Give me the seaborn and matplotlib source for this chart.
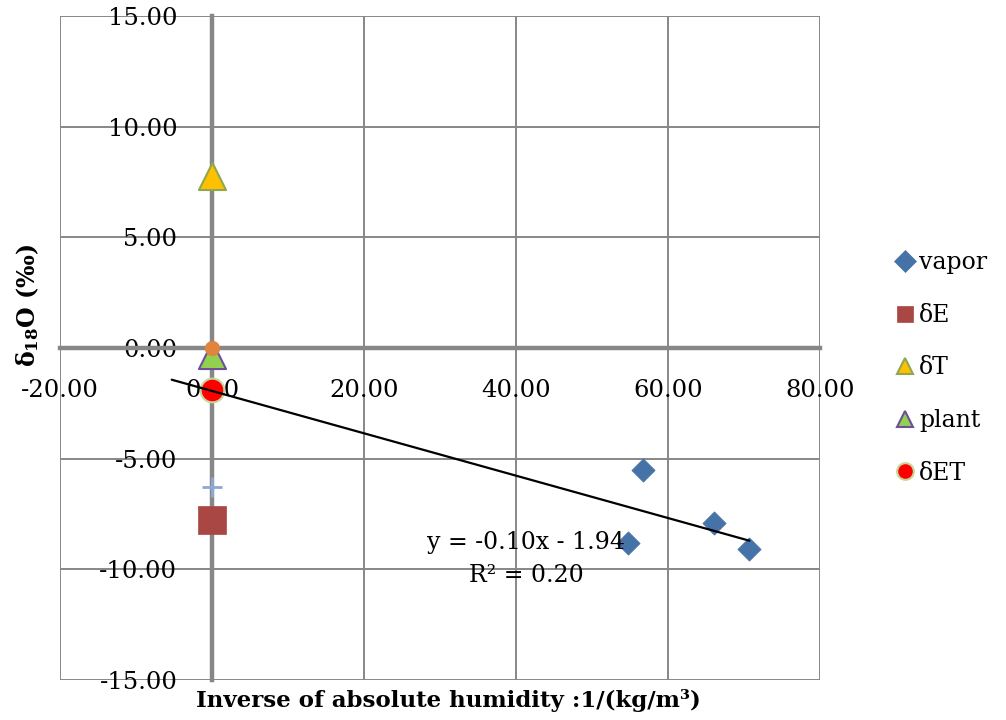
import matplotlib
matplotlib.use("Agg")
import matplotlib.pyplot as plt
from matplotlib.lines import Line2D
import seaborn as sns
import pandas as pd
import numpy as np

# ---- data ----
vapor_x = [54.7, 56.7, 66.0, 70.7]
vapor_y = [-8.81, -5.51, -7.91, -9.08]
dE_x = [0.0]
dE_y = [-7.77]
dT_x = [0.0]
dT_y = [7.77]
plant_x = [0.0]
plant_y = [-0.30]
dET_x = [0.0]
dET_y = [-1.90]
extra_orange_x = [0.0]
extra_orange_y = [0.0]
extra_plus_x = [0.0]
extra_plus_y = [-6.30]
trend_slope = -0.0957
trend_intercept = -1.94
trend_xrange = [-5.3, 70.7]
x_ticks = [-20, 0, 20, 40, 60, 80]
y_ticks = [-15, -10, -5, 0, 5, 10, 15]
legend_labels = ["vapor", "δE", "δT", "plant", "δET"]

sns.set_style("white")
plt.rcParams['font.family'] = ['DejaVu Serif']
plt.rcParams['mathtext.fontset'] = 'dejavuserif'
plt.rcParams['text.color'] = 'black'
plt.rcParams['xtick.labelcolor'] = 'black'
plt.rcParams['ytick.labelcolor'] = 'black'

fig = plt.figure(figsize=(10.06, 7.2), dpi=100)
ax = fig.add_axes([60/1006, 40/720, 760/1006, 664/720])

gray = "#878787"
ax.set_xlim(-20, 80)
ax.set_ylim(-15, 15)
ax.set_xticks(x_ticks)
ax.set_yticks(y_ticks)
ax.grid(True, color=gray, linewidth=1.4)
ax.set_axisbelow(True)
for s in ['top', 'right']:
    ax.spines[s].set_visible(False)
ax.spines['left'].set_position(('data', 0))
ax.spines['bottom'].set_position(('data', 0))
for s in ['left', 'bottom']:
    ax.spines[s].set_color(gray)
    ax.spines[s].set_linewidth(3.2)
    ax.spines[s].set_zorder(1.5)
ax.tick_params(axis='both', direction='out', length=4, width=3, color=gray,
               labelsize=17.5, labelcolor='black')
ax.tick_params(axis='x', pad=18)
ax.tick_params(axis='y', pad=21)
ax.set_xticklabels([f"{v:.2f}" for v in x_ticks])
ax.set_yticklabels([f"{v:.2f}" for v in y_ticks])

def sc(x, y, **kw):
    df = pd.DataFrame({"x": x, "y": y})
    sns.scatterplot(data=df, x="x", y="y", ax=ax, legend=False, zorder=3, **kw)

styles = [
    dict(marker='D', color="#4572A7", edgecolor="#4572A7", linewidth=0.5),
    dict(marker='s', color="#A94744", edgecolor="#A94744", linewidth=0.5),
    dict(marker='^', color="#FFC000", edgecolor="#8FA84F", linewidth=1.5),
    dict(marker='^', color="#92D050", edgecolor="#6F4F9A", linewidth=1.5),
    dict(marker='o', color="#FF0000", edgecolor="#C3D69B", linewidth=1.5),
]
sizes = [140, 400, 380, 380, 290]
series = [(vapor_x, vapor_y), (dE_x, dE_y), (dT_x, dT_y), (plant_x, plant_y), (dET_x, dET_y)]
for (xx, yy), st, sz in zip(series, styles, sizes):
    sc(xx, yy, s=sz, **st)
sc(extra_orange_x, extra_orange_y, marker='o', s=110, color="#E0843E", edgecolor="#E0843E", linewidth=0.5)
sc(extra_plus_x, extra_plus_y, marker='+', s=190, color="#8EA8D4", linewidth=2)

tx = np.array(trend_xrange)
ax.plot(tx, trend_slope * tx + trend_intercept, color="black", linewidth=1.6, zorder=4)
ax.text(41.3, -8.81, "y = -0.10x - 1.94", fontsize=17, ha='center', va='center', zorder=5)
ax.text(41.3, -10.26, "R² = 0.20", fontsize=17, ha='center', va='center', zorder=5)

ax.set_xlabel("")
ax.set_ylabel("")
fig.text(448/1006, 1 - 700/720, "Inverse of absolute humidity :1/(kg/m³)", fontsize=16.5,
         fontweight='bold', ha='center', va='center')
fig.text(28/1006, 1 - 305/720, r"δ$_{\mathbf{18}}$O (‰)", fontsize=17, fontweight='bold',
         rotation=90, ha='center', va='center')

leg_ms = [11, 12, 12, 12, 12]
handles = [Line2D([], [], linestyle='none', marker=st['marker'], markersize=ms,
                  markerfacecolor=st['color'], markeredgecolor=st['edgecolor'],
                  markeredgewidth=st['linewidth'])
           for st, ms in zip(styles, leg_ms)]
ax.legend(handles, legend_labels, loc='center left', bbox_to_anchor=(872/1006, 1 - 368/720),
          bbox_transform=fig.transFigure, frameon=False, fontsize=17,
          labelspacing=1.25, handletextpad=0.1, handlelength=1.0)

fig.savefig("out.png", dpi=100)
